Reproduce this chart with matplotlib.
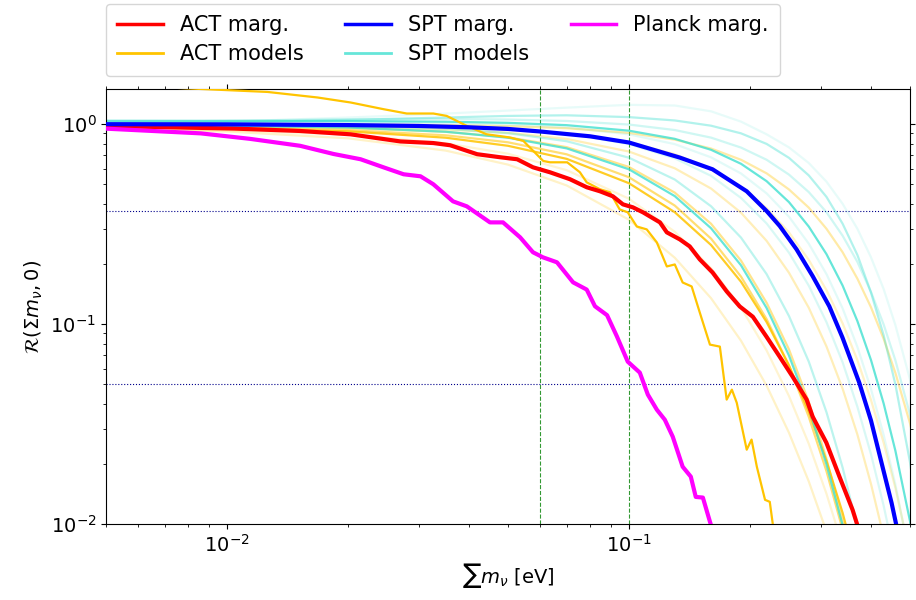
import matplotlib
matplotlib.use("Agg")
import matplotlib.pyplot as plt
from matplotlib.lines import Line2D

plt.rcParams['font.family'] = ['DejaVu Sans']
plt.rcParams['font.size'] = 14

# ---- marginalised curves ----
act_x = [0.005, 0.0104, 0.0152, 0.0203, 0.027, 0.0326, 0.0359, 0.0419, 0.0477, 0.0527,
         0.0577, 0.0636, 0.0713, 0.0785, 0.0847, 0.0912, 0.0966, 0.1023, 0.1084, 0.1194,
         0.1242, 0.1338, 0.1416, 0.150, 0.1614, 0.175, 0.1886, 0.2033, 0.2197, 0.237,
         0.2553, 0.2767, 0.2864, 0.3097, 0.334, 0.360, 0.370, 0.385]
act_y = [0.98, 0.951, 0.925, 0.89, 0.82, 0.805, 0.785, 0.708, 0.684, 0.668,
         0.609, 0.575, 0.531, 0.484, 0.462, 0.436, 0.3975, 0.384, 0.3625, 0.323,
         0.288, 0.2656, 0.245, 0.211, 0.1815, 0.146, 0.1227, 0.109, 0.0868, 0.0689,
         0.0547, 0.042, 0.0345, 0.0256, 0.01727, 0.0118, 0.0099, 0.0085]

spt_x = [0.005, 0.01, 0.02, 0.03, 0.04, 0.05, 0.06, 0.08, 0.1, 0.1338, 0.1614, 0.1963,
         0.22, 0.2371, 0.2612, 0.2864, 0.315, 0.3397, 0.374, 0.40, 0.427, 0.45, 0.462, 0.48]
spt_y = [1.0, 0.998, 0.99, 0.98, 0.965, 0.947, 0.92, 0.87, 0.81, 0.681, 0.595, 0.462,
         0.368, 0.31, 0.2366, 0.174, 0.123, 0.0858, 0.051, 0.033, 0.0195, 0.0128, 0.0100, 0.0070]

planck_x = [0.005, 0.0086, 0.0114, 0.0152, 0.0184, 0.0215, 0.0245, 0.0275, 0.0303, 0.0326,
            0.0365, 0.0395, 0.0451, 0.0486, 0.0536, 0.0577, 0.0611, 0.0662, 0.0726, 0.0785,
            0.0823, 0.0882, 0.0933, 0.0993, 0.1064, 0.1114, 0.1173, 0.1228, 0.1285, 0.136,
            0.1425, 0.1466, 0.1527, 0.159, 0.163]
planck_y = [0.95, 0.90, 0.845, 0.78, 0.71, 0.668, 0.609, 0.562, 0.549, 0.501,
            0.4115, 0.3885, 0.323, 0.323, 0.272, 0.229, 0.216, 0.204, 0.162, 0.149,
            0.123, 0.111, 0.087, 0.065, 0.0573, 0.0445, 0.0374, 0.0333, 0.0274, 0.0194,
            0.0173, 0.0137, 0.0136, 0.0103, 0.0088]

# ---- individual ACT model with oscillations ----
actw_x = [0.005, 0.008, 0.0126, 0.0168, 0.0203, 0.0245, 0.028, 0.0326, 0.0352, 0.0395,
          0.0442, 0.0506, 0.0546, 0.0578, 0.0612, 0.0636, 0.0702, 0.0755, 0.0785, 0.0847,
          0.0897, 0.0948, 0.0993, 0.1046, 0.1107, 0.1173, 0.1242, 0.130, 0.136, 0.1432,
          0.150, 0.159, 0.1683, 0.175, 0.1803, 0.1854, 0.1963, 0.2018, 0.208, 0.218,
          0.224, 0.2277, 0.232]
actw_y = [1.58, 1.51, 1.45, 1.36, 1.284, 1.189, 1.131, 1.131, 1.10, 0.981,
          0.891, 0.858, 0.825, 0.735, 0.655, 0.645, 0.645, 0.575, 0.512, 0.473,
          0.457, 0.375, 0.3626, 0.308, 0.298, 0.2565, 0.1945, 0.199, 0.1617, 0.1545,
          0.1145, 0.0791, 0.0773, 0.042, 0.0471, 0.0405, 0.0236, 0.0265, 0.0194, 0.01325,
          0.01295, 0.01016, 0.008]

# ---- model curves on a common grid ----
model_x = [0.005, 0.01, 0.02, 0.035, 0.05, 0.07, 0.1, 0.13, 0.16, 0.19, 0.22,
           0.25, 0.28, 0.31, 0.34, 0.37, 0.40, 0.43, 0.46, 0.50, 0.55]

act_models = [
    [0.964, 0.953, 0.921, 0.856, 0.780, 0.671, 0.507, 0.363, 0.249, 0.163, 0.1025, 0.0623, 0.0366, 0.0207, 0.0114, 0.0060, 0.0031],
    [0.967, 0.959, 0.934, 0.880, 0.812, 0.707, 0.543, 0.392, 0.268, 0.173, 0.106, 0.0621, 0.0345, 0.0184, 0.0094, 0.0046],
    [0.978, 0.973, 0.957, 0.916, 0.860, 0.768, 0.611, 0.455, 0.318, 0.208, 0.128, 0.0749, 0.0410, 0.0212, 0.0104, 0.0048],
    [0.949, 0.919, 0.850, 0.738, 0.628, 0.494, 0.333, 0.215, 0.135, 0.0827, 0.0493, 0.0287, 0.0164, 0.0092, 0.0051],
    [1.0, 0.999, 0.997, 0.990, 0.979, 0.955, 0.905, 0.837, 0.756, 0.664, 0.568, 0.472, 0.383, 0.300, 0.229, 0.169, 0.1215, 0.0846, 0.0571, 0.0320, 0.0144],
    [0.979, 0.976, 0.966, 0.941, 0.906, 0.844, 0.730, 0.602, 0.477, 0.361, 0.261, 0.181, 0.121, 0.0774, 0.0476, 0.0281, 0.0159, 0.0087, 0.0046],
    [0.99, 0.988, 0.982, 0.966, 0.942, 0.899, 0.813, 0.708, 0.597, 0.485, 0.380, 0.288, 0.210, 0.148, 0.101, 0.0661, 0.0418, 0.0256, 0.0152, 0.0071, 0.0025],
    [0.950, 0.933, 0.887, 0.803, 0.712, 0.589, 0.424, 0.290, 0.191, 0.121, 0.0739, 0.0438, 0.0253, 0.0142, 0.0078, 0.0041],
]
act_weights = [0.85, 0.55, 0.45, 0.22, 0.35, 0.28, 0.22, 0.18]

spt_models = [
    [0.988, 0.982, 0.963, 0.917, 0.856, 0.757, 0.595, 0.437, 0.302, 0.197, 0.1205, 0.0698, 0.0383, 0.0199, 0.0099, 0.0046],
    [1.04, 1.039, 1.037, 1.029, 1.016, 0.989, 0.928, 0.845, 0.745, 0.634, 0.519, 0.408, 0.308, 0.224, 0.156, 0.1037, 0.0662, 0.0402, 0.0233, 0.0104, 0.0034],
    [1.0, 1.02, 1.05, 1.08, 1.10, 1.108, 1.085, 1.044, 0.983, 0.900, 0.797, 0.679, 0.555, 0.433, 0.318, 0.222, 0.144, 0.0881, 0.0500, 0.0205, 0.0055],
    [1.0, 1.03, 1.08, 1.13, 1.17, 1.21, 1.25, 1.24, 1.16, 1.03, 0.89, 0.766, 0.64, 0.516, 0.40, 0.30, 0.216, 0.15, 0.099, 0.053, 0.0215],
    [0.999, 0.995, 0.982, 0.949, 0.902, 0.822, 0.680, 0.529, 0.389, 0.271, 0.178, 0.110, 0.0651, 0.0363, 0.0192, 0.0096, 0.0046],
    [1.009, 1.008, 1.0, 0.981, 0.952, 0.899, 0.796, 0.675, 0.552, 0.428, 0.319, 0.228, 0.156, 0.1024, 0.0645, 0.0387, 0.0224, 0.0124, 0.0066],
    [1.03, 1.029, 1.026, 1.015, 0.998, 0.964, 0.890, 0.795, 0.683, 0.567, 0.451, 0.345, 0.253, 0.178, 0.120, 0.0770, 0.0474, 0.0280, 0.0158, 0.0068],
    [1.02, 1.04, 1.06, 1.064, 1.055, 1.038, 0.996, 0.935, 0.857, 0.764, 0.664, 0.560, 0.458, 0.363, 0.277, 0.205, 0.145, 0.0998, 0.0660, 0.0354, 0.0148],
]
spt_weights = [0.8, 0.8, 0.4, 0.12, 0.35, 0.2, 0.15, 0.25]

ref_masses = [0.06, 0.1]
ref_levels = [0.36788, 0.05]

GOLD = '#FFC400'
TURQ = '#40E0D0'

fig = plt.figure(figsize=(9.16, 6.0), dpi=100)
ax = fig.add_axes([0.1157, 0.1262, 0.8777, 0.7255])

for vals, w in zip(act_models, act_weights):
    ax.plot(model_x[:len(vals)], vals, color=GOLD, alpha=w, lw=1.6, zorder=2)
for vals, w in zip(spt_models, spt_weights):
    ax.plot(model_x[:len(vals)], vals, color=TURQ, alpha=w, lw=1.6, zorder=2)
ax.plot(actw_x, actw_y, color=GOLD, lw=1.6, zorder=3)

ax.plot(act_x, act_y, color='red', lw=3, zorder=5)
ax.plot(spt_x, spt_y, color='blue', lw=3, zorder=5)
ax.plot(planck_x, planck_y, color='magenta', lw=3, zorder=6)

for m in ref_masses:
    ax.axvline(m, color='green', ls='--', lw=0.8, alpha=0.8, zorder=1)
for lv in ref_levels:
    ax.axhline(lv, color='darkblue', ls=':', lw=0.8, zorder=1)

ax.set_xscale('log')
ax.set_yscale('log')
ax.set_xlim(0.005, 0.5)
ax.set_ylim(0.01, 1.5)
ax.tick_params(which='both', direction='out', top=True, right=True, labelsize=14)
ax.set_xlabel(r'$\sum m_\nu$ [eV]', fontsize=14)
ax.set_ylabel(r'$\mathcal{R}(\Sigma m_\nu, 0)$', fontsize=14)

handles = [
    Line2D([], [], color='red', lw=2.5),
    Line2D([], [], color=GOLD, lw=2),
    Line2D([], [], color='blue', lw=2.5),
    Line2D([], [], color=TURQ, lw=2, alpha=0.8),
    Line2D([], [], color='magenta', lw=2.5),
]
labels = ['ACT marg.', 'ACT models', 'SPT marg.', 'SPT models', 'Planck marg.']
ax.legend(handles, labels, ncol=3, loc='lower left', bbox_to_anchor=(0.0, 1.03),
          borderaxespad=0, fontsize=15, handlelength=2.2, columnspacing=2.0,
          labelspacing=0.45, borderpad=0.55)

fig.savefig('out.png', dpi=100)
